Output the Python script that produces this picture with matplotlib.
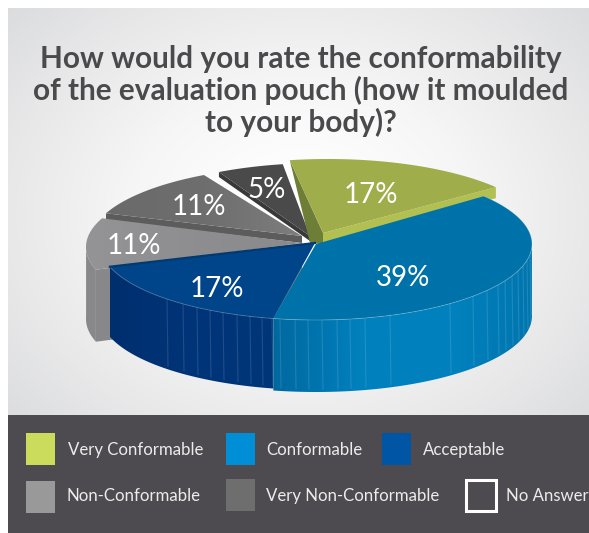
import numpy as np
import matplotlib
matplotlib.use('Agg')
import matplotlib.pyplot as plt
from matplotlib.patches import Polygon, Rectangle
from matplotlib.colors import LinearSegmentedColormap

title = 'How would you rate the conformability\nof the evaluation pouch (how it moulded\nto your body)?'

# going clockwise from the right hand edge of the blue slice
categories = ['Conformable', 'Acceptable', 'Non-Conformable', 'Very Non-Conformable', 'No Answer', 'Very Conformable']
values = [39, 17, 11, 11, 5, 17]
labels = ['39%', '17%', '11%', '11%', '5%', '17%']

legend_row1 = ['Very Conformable', 'Conformable', 'Acceptable']
legend_row2 = ['Non-Conformable', 'Very Non-Conformable', 'No Answer']

# layout, in pixels of the 589x533 picture
W, H = 589, 533
cx, cy = 316, 244
a, b = 216, 76
start = 39.0
apex = [(316, 244), (315, 243), (302, 243), (302, 236), (310, 236), (323, 233)]
shift = [(0, 0), (0, 0), (-14, 3), (-10, -2), (5, -5), (12, -9)]
depth = [72, 70, 72, 7, 5, 11]
label_xy = [(403, 278), (217, 289), (134, 246), (199, 207), (267, 190), (371, 195)]

top_col = ['#0072aa', '#00458a', '#8f8f91', '#707071', '#4a4a4b', '#9fad4b']
wall_col = ['#007cb8', '#003476', '#88888a', '#5c5c5d', '#39393a', '#b2c052']
navy_lines = [167, 183, 197, 210, 223, 237, 250, 262, 272]
blue_lines = [280, 295, 308, 322, 337, 350, 365, 390, 450, 473, 487, 498, 505, 512, 518, 523, 527, 530]

fig = plt.figure(figsize=(W / 100, H / 100), dpi=100)
ax = fig.add_axes([0, 0, 1, 1])
ax.set_xlim(0, W)
ax.set_ylim(H, 0)
ax.axis('off')

# background
yy, xx = np.mgrid[8:416, 8:W]
rr = np.hypot((xx - 300) / 420, (yy - 215) / 330)
bg = LinearSegmentedColormap.from_list('bg', ['#ffffff', '#f6f6f6', '#e8e8e9', '#d8d9db'])
ax.imshow(rr, cmap=bg, extent=(8, W, 416, 8), vmin=0.1, vmax=1.0, aspect='auto', zorder=0)
ax.add_patch(Rectangle((8, 415), W - 8, 118, color='#4d4b4f', lw=0, zorder=1))


def rim(t, i):
    t = np.radians(t)
    return np.column_stack([cx + shift[i][0] + a * np.cos(t), cy + shift[i][1] - b * np.sin(t)])


def shade(poly, colors, x0, x1, z):
    cmap = LinearSegmentedColormap.from_list('w', colors)
    im = ax.imshow(np.linspace(0, 1, 200)[None, :], cmap=cmap, extent=(x0, x1, H, 0), aspect='auto', zorder=z)
    im.set_clip_path(Polygon(poly, transform=ax.transData))


# angles of every slice from the values
sweeps = [v / sum(values) * 360 for v in values]
ends = start - np.cumsum(sweeps)
starts = ends + np.array(sweeps)

order = [3, 4, 2, 5, 1, 0]  # back to front
for z, i in enumerate(order):
    z = 2 + z * 2
    t0, t1 = starts[i], ends[i]
    arc = rim(np.linspace(t0, t1, 120), i)
    p = np.array(apex[i], float)
    d = np.array([0, depth[i]])

    # faces of the cut, behind the top
    first, last = arc[0], arc[-1]
    if i == 5:
        ax.add_patch(Polygon([last, p, p + d, last + d], color=wall_col[i], lw=0, zorder=z))
        ax.add_patch(Polygon([first, p, p + d, p + d - [13, 1]], color='#6e7e36', lw=0, zorder=z))
    elif i in (3, 4):
        ax.add_patch(Polygon([first, p, p + d, first + d], color=wall_col[i], lw=0, zorder=z))
    elif i == 2:
        ax.add_patch(Polygon([first, first + d, p + d, p], color=wall_col[i], lw=0, zorder=z))

    # outer wall
    if i in (0, 1, 2):
        tt = np.linspace(t0, t1, 200)
        s = np.sin(np.radians(tt))
        tt = tt[(s <= 0.03)]
        front = rim(tt, i)
        poly = np.vstack([front, (front + d)[::-1]])
        if i == 0:
            shade(poly, ['#00689f', '#0080bd', '#0082bf', '#0075ae'], 272, 534, z)
        elif i == 1:
            shade(poly, ['#002f6e', '#003478', '#003679'], 110, 275, z)
        else:
            ax.add_patch(Polygon(poly, color=wall_col[i], lw=0, zorder=z))

    # stripes on the wall
    xs = {0: blue_lines, 1: navy_lines}.get(i, [])
    for x in xs:
        th = -np.degrees(np.arccos((x - cx) / a))
        q = rim(np.array([th]), i)[0]
        ax.plot([q[0], q[0] + 1], [q[1], q[1] + depth[i] - 3], color='#ffffff', alpha=0.13, lw=0.8, zorder=z + 0.5)

    # top
    top = np.vstack([p, arc])
    if i == 3:
        shade(top, ['#6a6a6b', '#6e6e6f', '#7e7e7f'], 105, 306, z + 1)
    elif i == 2:
        shade(top, ['#949496', '#8e8e90', '#8a8a8c'], 85, 305, z + 1)
    else:
        ax.add_patch(Polygon(top, color=top_col[i], lw=0, zorder=z + 1))
    if i in (0, 1):
        ax.plot(arc[:, 0], arc[:, 1], color='#ffffff', alpha=0.2, lw=0.7, zorder=z + 1.2)
    if i == 1:
        ax.plot([p[0], last[0]], [p[1], last[1]], color='#003a70', lw=1.6, zorder=z + 1.3)

# legend
font = ['Lato', 'DejaVu Sans']
row1_swatch = [(26, 433, '#cbdc5c'), (226, 433, '#008fd7'), (382, 433, '#0056a4')]
row2_swatch = [(26, 481, '#999999'), (226, 479, '#6e6e6e')]
row1_text = [68, 266, 423]
row2_text = [66, 266, 506]
for x, y, c in row1_swatch + row2_swatch:
    ax.add_patch(Rectangle((x, y), 29, 32, color=c, lw=0, zorder=20))
ax.add_patch(Rectangle((466, 480), 30, 31, fc='none', ec='white', lw=2.2, zorder=20))
for x, s in zip(row1_text, legend_row1):
    ax.text(x, 450, s, color='#ececec', fontsize=12.1, family=font, va='center', zorder=21)
for x, s in zip(row2_text, legend_row2):
    ax.text(x, 496, s, color='#ececec', fontsize=12.1, family=font, va='center', zorder=21)

# percent labels
for (x, y), s in zip(label_xy, labels):
    ax.text(x, y, s, color='white', fontsize=20, family=font, ha='center', va='center', zorder=25)

ax.text(301, 91, title, color='#4a4a4c', fontsize=21.4, family=font, fontweight='bold',
        ha='center', va='center', linespacing=1.14, zorder=25)

ax.set_xlim(0, W)
ax.set_ylim(H, 0)
fig.savefig('out.png', dpi=100, facecolor='white')
